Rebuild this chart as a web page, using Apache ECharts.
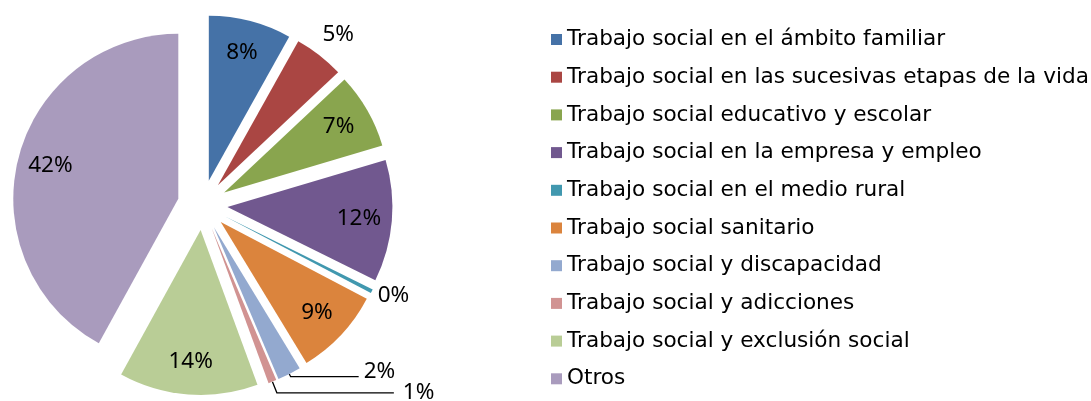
<!DOCTYPE html>
<html>
<head>
<meta charset="utf-8">
<script src="https://cdn.jsdelivr.net/npm/echarts@6/dist/echarts.min.js"></script>
<style>
html, body { margin: 0; padding: 0; background: #fff; }
#chart { width: 1091px; height: 401px; }
</style>
</head>
<body>
<div id="chart"></div>
<script>
// Data (shares in %)
var categories = [
    'Trabajo social en el ámbito familiar',
    'Trabajo social en las sucesivas etapas de la vida',
    'Trabajo social educativo y escolar',
    'Trabajo social en la empresa y empleo',
    'Trabajo social en el medio rural',
    'Trabajo social sanitario',
    'Trabajo social y discapacidad',
    'Trabajo social y adicciones',
    'Trabajo social y exclusión social',
    'Otros'
];
var shares = [8.1, 4.9, 7.4, 11.9, 0.4, 8.6, 2.3, 0.8, 13.6, 42.0];
var colors = ['#4572A7', '#AA4643', '#89A54E', '#71588F', '#4198AF',
              '#DB843D', '#93A9CF', '#D19392', '#B9CD96', '#A99BBD'];

var chart = echarts.init(document.getElementById('chart'));

var CENTER = [202.5, 205];
var R = 165;
var EXPLODE = 25;
var LEGEND_FONT = 'DejaVu Sans, Verdana, sans-serif';
var LABEL_FONT = 'Noto Sans, Open Sans, sans-serif';

// small slices get their label outside (some with a leader line)
var outside = {
    1: { length: 26, length2: 0, line: false, dx: -18, dy: 0 },
    4: { length: 1, length2: 0, line: false, dx: 0, dy: 4 },
    6: { length: 3, length2: 68, line: true, dx: 0, dy: -5 },
    7: { length: 12, length2: 117, line: true, dx: 4, dy: 0 }
};

var pieData = categories.map(function (name, i) {
    return { name: name, value: shares[i], selected: true, itemStyle: { color: colors[i] } };
});

var labelData = categories.map(function (name, i) {
    var item = { name: name, value: shares[i], selected: true };
    var o = outside[i];
    if (o) {
        item.label = { position: 'outside' };
        item.labelLine = {
            show: o.line, length: o.length, length2: o.length2,
            lineStyle: { color: '#000', width: 1.3 }
        };
    }
    return item;
});

var option = {
    animation: false,
    legend: {
        orient: 'vertical',
        left: 546,
        top: 23.5,
        icon: 'rect',
        itemWidth: 11,
        itemHeight: 11,
        itemGap: 15.7,
        selectedMode: false,
        data: categories,
        textStyle: { fontFamily: LEGEND_FONT, fontSize: 21.6, color: '#000', lineHeight: 22 }
    },
    series: [
        {
            // the slices
            type: 'pie',
            center: CENTER,
            radius: [0, R],
            startAngle: 90,
            selectedMode: 'multiple',
            selectedOffset: EXPLODE,
            silent: true,
            label: { show: false },
            labelLine: { show: false },
            emphasis: { disabled: true },
            data: pieData
        },
        {
            // transparent ring that only carries the percentage labels
            type: 'pie',
            center: CENTER,
            radius: [93, R],
            startAngle: 90,
            selectedMode: 'multiple',
            selectedOffset: EXPLODE,
            silent: true,
            avoidLabelOverlap: false,
            itemStyle: { color: 'rgba(0,0,0,0)' },
            label: {
                show: true,
                position: 'inside',
                color: '#000',
                fontFamily: LABEL_FONT,
                fontSize: 22.5,
                distanceToLabelLine: 5,
                formatter: function (p) { return Math.round(p.value) + '%'; }
            },
            labelLayout: function (p) {
                var o = outside[p.dataIndex];
                return o ? { dx: o.dx, dy: o.dy } : {};
            },
            emphasis: { disabled: true },
            data: labelData
        }
    ]
};

chart.setOption(option);
</script>
</body>
</html>
